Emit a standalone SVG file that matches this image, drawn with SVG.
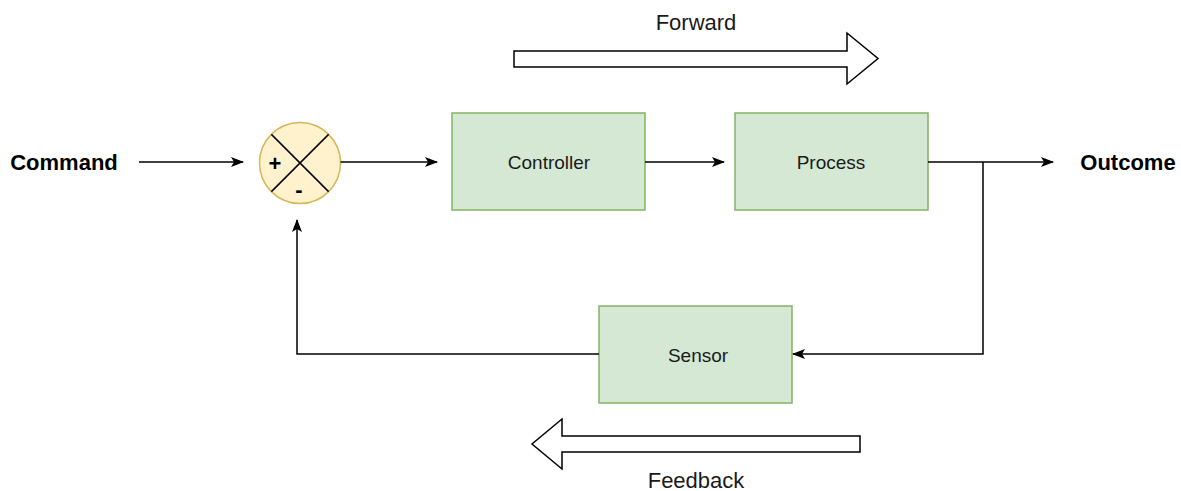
<svg xmlns="http://www.w3.org/2000/svg" width="1181" height="491" viewBox="0 0 1181 491">
  <style>
    .box { fill: #d5e8d4; stroke: #82b366; stroke-width: 1.5; }
    .sum { fill: #fff2cc; stroke: #d6b656; stroke-width: 1.5; }
    .lbl { font-family: "Liberation Sans", Arial, sans-serif; font-size: 19px; fill: #1a1a1a; text-anchor: middle; }
    .io { font-family: "Liberation Sans", Arial, sans-serif; font-size: 22px; font-weight: bold; fill: #000; text-anchor: middle; }
    .cap { font-family: "Liberation Sans", Arial, sans-serif; font-size: 22px; fill: #1a1a1a; text-anchor: middle; }
    .sign { font-family: "Liberation Sans", Arial, sans-serif; font-size: 22px; font-weight: bold; fill: #000; text-anchor: middle; }
    .wire { fill: none; stroke: #000; stroke-width: 1.5; }
    .big { fill: #fff; stroke: #000; stroke-width: 1.5; stroke-linejoin: miter; }
  </style>
  <defs>
    <marker id="arr" viewBox="0 0 13 10" refX="12" refY="5" markerWidth="13" markerHeight="10" markerUnits="userSpaceOnUse" orient="auto">
      <path d="M0,0 L13,5 L0,10 L3,5 Z" fill="#000"/>
    </marker>
  </defs>
  <rect width="1181" height="491" fill="#fff"/>

  <!-- direction hints -->
  <g id="forward">
    <path class="big" d="M514,51 H847 V33 L878,58.5 L847,84 V67 H514 Z"/>
    <text class="cap" x="696" y="30">Forward</text>
  </g>
  <g id="feedback">
    <path class="big" d="M860,436 H562 V419 L532,444 L562,469 V452 H860 Z"/>
    <text class="cap" x="696" y="488">Feedback</text>
  </g>

  <g id="command"><text class="io" x="64" y="170">Command</text></g>
  <g id="outcome"><text class="io" x="1128" y="170">Outcome</text></g>

  <g id="summing">
    <circle class="sum" cx="300" cy="163" r="40.5"/>
    <path d="M271.4,134.4 L328.6,191.6 M328.6,134.4 L271.4,191.6" stroke="#000" stroke-width="1.5"/>
    <text class="sign" x="275" y="171">+</text>
    <text class="sign" x="299" y="197">-</text>
  </g>

  <g id="controller">
    <rect class="box" x="452" y="113" width="193" height="97"/>
    <text class="lbl" x="549" y="169">Controller</text>
  </g>
  <g id="process">
    <rect class="box" x="735" y="113" width="193" height="97"/>
    <text class="lbl" x="831" y="169">Process</text>
  </g>
  <g id="sensor">
    <rect class="box" x="599" y="306" width="193" height="97"/>
    <text class="lbl" x="698" y="362">Sensor</text>
  </g>

  <g id="connectors">
    <path class="wire" d="M139,162 H243" marker-end="url(#arr)"/>
    <path class="wire" d="M340.5,162 H437" marker-end="url(#arr)"/>
    <path class="wire" d="M645,162 H724" marker-end="url(#arr)"/>
    <path class="wire" d="M928,162 H1053" marker-end="url(#arr)"/>
    <path class="wire" d="M983,162 V354 H793" marker-end="url(#arr)"/>
    <path class="wire" d="M599,354 H297 V220" marker-end="url(#arr)"/>
  </g>
</svg>
